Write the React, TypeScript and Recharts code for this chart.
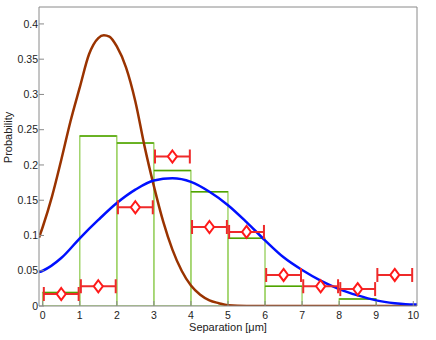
import { ComposedChart, Bar, Line, Scatter, ErrorBar, XAxis, YAxis } from "recharts";

// histogram of measured separations (bin centres)
const binCenters = [0.5, 1.5, 2.5, 3.5, 4.5, 5.5, 6.5, 7.5, 8.5, 9.5];
const histProb = [0.019, 0.241, 0.231, 0.192, 0.162, 0.096, 0.028, 0, 0.01, 0];

// red points with horizontal error bars
const pointProb = [0.017, 0.028, 0.14, 0.212, 0.112, 0.105, 0.044, 0.028, 0.024, 0.044];
const pointErr = [0.47, 0.47, 0.47, 0.47, 0.47, 0.47, 0.47, 0.47, 0.47, 0.47];

// brown fit curve
const brownX = [-0.1, 0, 0.25, 0.5, 0.75, 1, 1.25, 1.5, 1.65, 1.8, 2, 2.25, 2.5, 2.75, 3, 3.25, 3.5, 3.75, 4, 4.25, 4.5, 4.75, 5, 5.5, 6, 8, 10.1];
const brownY = [0.097, 0.112, 0.155, 0.207, 0.262, 0.31, 0.357, 0.38, 0.384, 0.382, 0.368, 0.338, 0.29, 0.226, 0.17, 0.12, 0.08, 0.05, 0.029, 0.016, 0.008, 0.004, 0.001, 0, 0, 0, 0];

// blue fit curve
const blueX = [-0.1, 0, 0.5, 1, 1.5, 2, 2.5, 3, 3.5, 4, 4.5, 5, 5.5, 6, 6.5, 7, 7.5, 8, 8.5, 9, 9.5, 10, 10.1];
const blueY = [0.048, 0.05, 0.068, 0.096, 0.122, 0.146, 0.165, 0.178, 0.181, 0.176, 0.162, 0.143, 0.119, 0.093, 0.069, 0.051, 0.036, 0.024, 0.015, 0.008, 0.004, 0.002, 0.002];

const xTicks = [0, 1, 2, 3, 4, 5, 6, 7, 8, 9, 10];
const yTicks = [0, 0.05, 0.1, 0.15, 0.2, 0.25, 0.3, 0.35, 0.4];

const histData = binCenters.map((x, i) => ({ x, p: histProb[i] }));
const pointData = binCenters.map((x, i) => ({ x, y: pointProb[i], err: pointErr[i] }));
const brownData = brownX.map((x, i) => ({ x, y: brownY[i] }));
const blueData = blueX.map((x, i) => ({ x, y: blueY[i] }));

const FONT = "'Liberation Sans', Arial, sans-serif";
const AXIS = "#8a8a8a";
const LIGHT_GREEN = "#a3d56f";
const DARK_GREEN = "#4fa300";

const HistBar = (props: any) => {
  const { x, y, width, height } = props;
  if (!height || height <= 0) return null;
  return (
    <g>
      <rect x={x} y={y} width={width} height={height} fill="none" stroke={LIGHT_GREEN} strokeWidth={1.5} />
      <line x1={x} x2={x + width} y1={y} y2={y} stroke={DARK_GREEN} strokeWidth={1.5} />
    </g>
  );
};

const Diamond = (props: any) => {
  const { cx, cy } = props;
  return (
    <polygon
      points={`${cx},${cy - 6} ${cx + 4.5},${cy} ${cx},${cy + 6} ${cx - 4.5},${cy}`}
      fill="#fff"
      stroke="#ff1a1a"
      strokeWidth={2}
    />
  );
};

const tickStyle = { fontSize: 10.5, fill: "#222", fontFamily: FONT };

export default function App() {
  return (
    <div style={{ position: "absolute", left: 0, top: 0, background: "#fff" }}>
      <ComposedChart
        width={436}
        height={340}
        data={histData}
        margin={{ top: 7, right: 19, bottom: 0, left: 0 }}
        barCategoryGap={0}
        barGap={0}
      >
        <XAxis
          dataKey="x"
          type="number"
          domain={[-0.1, 10.1]}
          allowDataOverflow
          ticks={xTicks}
          interval={0}
          height={34}
          stroke={AXIS}
          tickSize={-5}
          tickMargin={10.5}
          tick={tickStyle}
          label={{ value: "Separation [\u03bcm]", position: "insideBottom", offset: 9, style: { fontSize: 11, fill: "#222", fontFamily: FONT } }}
        />
        {/* own axis for the histogram so the bar width comes from the 1-unit bins */}
        <XAxis xAxisId="hist" dataKey="x" type="number" domain={[-0.1, 10.1]} allowDataOverflow hide />
        <XAxis
          xAxisId="top"
          dataKey="x"
          type="number"
          orientation="top"
          mirror
          domain={[-0.1, 10.1]}
          allowDataOverflow
          ticks={xTicks}
          interval={0}
          stroke={AXIS}
          tickSize={5}
          tick={false}
        />
        <YAxis
          type="number"
          domain={[0, 0.424]}
          allowDataOverflow
          ticks={yTicks}
          interval={0}
          width={39}
          stroke={AXIS}
          tickSize={-5}
          tickMargin={6}
          tick={tickStyle}
          label={{ value: "Probability", angle: -90, position: "insideLeft", offset: 8, dy: -19, style: { fontSize: 11, fill: "#222", fontFamily: FONT, textAnchor: "middle" } }}
        />
        <YAxis
          yAxisId="right"
          type="number"
          orientation="right"
          mirror
          domain={[0, 0.424]}
          allowDataOverflow
          ticks={yTicks}
          interval={0}
          stroke={AXIS}
          tickSize={5}
          tick={false}
        />
        <Bar xAxisId="hist" dataKey="p" shape={<HistBar />} isAnimationActive={false} />
        <Line data={brownData} dataKey="y" type="monotone" stroke="#9a3300" strokeWidth={2.5} dot={false} isAnimationActive={false} />
        <Line data={blueData} dataKey="y" type="monotone" stroke="#0010ff" strokeWidth={2.5} dot={false} isAnimationActive={false} />
        <Scatter data={pointData} dataKey="y" shape={<Diamond />} isAnimationActive={false}>
          <ErrorBar dataKey="err" direction="x" width={7} stroke="#ee2a2a" strokeWidth={2} />
        </Scatter>
      </ComposedChart>
    </div>
  );
}
